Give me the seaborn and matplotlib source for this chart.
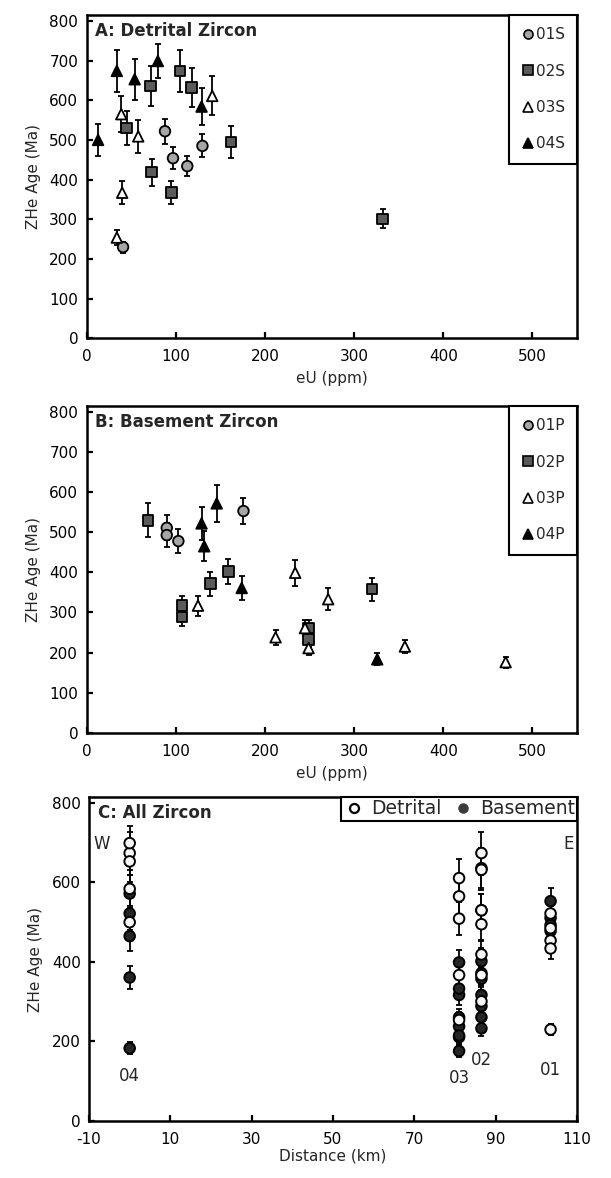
import matplotlib
matplotlib.use('Agg')
import matplotlib.pyplot as plt
import pandas as pd
import seaborn as sns
from matplotlib.lines import Line2D

sns.set_theme(style='white')
plt.rcParams['font.family'] = ['DejaVu Sans']
plt.rcParams['axes.unicode_minus'] = False

# ---------------- data ----------------
# Detrital zircon (panel A)
s01S_eu = [41, 88, 97, 113, 130]
s01S_age = [230, 522, 454, 434, 485]
s01S_err = [14, 32, 27, 26, 29]
s02S_eu = [45, 72, 105, 118, 162, 73, 95, 332]
s02S_age = [530, 636, 674, 632, 495, 419, 367, 301]
s02S_err = [42, 51, 54, 50, 40, 34, 29, 24]
s03S_eu = [39, 58, 141, 40, 34]
s03S_age = [565, 509, 611, 367, 254]
s03S_err = [45, 41, 49, 29, 20]
s04S_eu = [13, 34, 54, 80, 129]
s04S_age = [500, 674, 653, 699, 584]
s04S_err = [40, 54, 52, 42, 47]

# Basement zircon (panel B)
s01P_eu = [90, 90, 103, 176]
s01P_age = [511, 493, 478, 553]
s01P_err = [31, 30, 29, 33]
s02P_eu = [69, 107, 107, 139, 159, 320, 249, 249]
s02P_age = [530, 317, 289, 372, 402, 358, 261, 233]
s02P_err = [42, 25, 23, 30, 32, 29, 21, 19]
s03P_eu = [125, 234, 271, 212, 245, 249, 357, 470]
s03P_age = [317, 399, 333, 238, 261, 211, 215, 176]
s03P_err = [25, 32, 27, 19, 21, 17, 17, 14]
s04P_eu = [146, 129, 132, 174, 326]
s04P_age = [572, 522, 465, 361, 183]
s04P_err = [46, 42, 37, 29, 15]

# Sample distances along transect (panel C)
sample_ids = ['01', '02', '03', '04']
distance_km = [103.5, 86.5, 81, 0]

detrital_labels = ['01S', '02S', '03S', '04S']
basement_labels = ['01P', '02P', '03P', '04P']

# ---------------- tables ----------------
def build(labels, eus, ages, errs):
    rows = []
    for lab, e, a, r in zip(labels, eus, ages, errs):
        for xe, ya, er in zip(e, a, r):
            rows.append({'sample': lab, 'eU': xe, 'age': ya, 'err': er})
    return pd.DataFrame(rows)

dfA = build(detrital_labels, [s01S_eu, s02S_eu, s03S_eu, s04S_eu],
            [s01S_age, s02S_age, s03S_age, s04S_age],
            [s01S_err, s02S_err, s03S_err, s04S_err])
dfB = build(basement_labels, [s01P_eu, s02P_eu, s03P_eu, s04P_eu],
            [s01P_age, s02P_age, s03P_age, s04P_age],
            [s01P_err, s02P_err, s03P_err, s04P_err])

dist_map = dict(zip(sample_ids, distance_km))
dfC = pd.concat([
    dfB.assign(kind='Basement', dist=dfB['sample'].str[:2].map(dist_map)),
    dfA.assign(kind='Detrital', dist=dfA['sample'].str[:2].map(dist_map)),
], ignore_index=True)

# ---------------- style ----------------
fill = {'01': '#a6a6a6', '02': '#5a5a5a', '03': '#ffffff', '04': '#000000'}
mk = {'01': 'o', '02': 's', '03': '^', '04': '^'}
FS = 11
SPINE = 1.8

fig = plt.figure(figsize=(6.11, 11.78), dpi=100)
W, H = 611, 1178

def axes_px(left, top, right, bottom):
    return fig.add_axes([left / W, 1 - bottom / H, (right - left) / W, (bottom - top) / H])

def style_axes(ax):
    for s in ax.spines.values():
        s.set_visible(True)
        s.set_color('black')
        s.set_linewidth(SPINE)
    ax.tick_params(direction='in', length=4, width=1.6, labelsize=FS, colors='black',
                   left=True, bottom=True, top=False, right=False, pad=6)
    ax.tick_params(axis='x', pad=8)
    ax.grid(False)

def scatter_panel(ax, df, labels, title):
    for lab in labels:
        d = df[df['sample'] == lab]
        ax.errorbar(d['eU'], d['age'], yerr=d['err'], fmt='none', ecolor='black',
                    elinewidth=1.3, capsize=2.5, capthick=1.3, zorder=2)
    sns.scatterplot(data=df, x='eU', y='age', hue='sample', style='sample',
                    palette={l: fill[l[:2]] for l in labels},
                    markers={l: mk[l[:2]] for l in labels},
                    s=58, edgecolor='black', linewidth=1.3, legend=False, ax=ax, zorder=3)
    ax.set_xlim(0, 550)
    ax.set_ylim(0, 815)
    ax.set_xticks(range(0, 501, 100))
    ax.set_yticks(range(0, 801, 100))
    ax.set_xlabel('eU (ppm)', fontsize=FS, labelpad=5)
    ax.set_ylabel('ZHe Age (Ma)', fontsize=FS, labelpad=6)
    style_axes(ax)
    ax.text(0.018, 0.978, title, transform=ax.transAxes, fontsize=12, fontweight='bold',
            va='top', ha='left')
    handles = [Line2D([], [], linestyle='none', marker=mk[l[:2]], markersize=6.5,
                      markerfacecolor=fill[l[:2]], markeredgecolor='black',
                      markeredgewidth=1.2, label=l) for l in labels]
    leg = ax.legend(handles=handles, loc='upper right', bbox_to_anchor=(1, 1),
                    borderaxespad=0, frameon=True, fancybox=False, fontsize=FS,
                    labelspacing=1.4, handlelength=0.85, handletextpad=0.1,
                    borderpad=0.8)
    leg.get_frame().set_edgecolor('black')
    leg.get_frame().set_linewidth(1.5)
    leg.get_frame().set_alpha(1)

axA = axes_px(86.5, 15, 577, 338.3)
scatter_panel(axA, dfA, detrital_labels, 'A: Detrital Zircon')

axB = axes_px(86.5, 406, 577, 732.7)
scatter_panel(axB, dfB, basement_labels, 'B: Basement Zircon')

# ---------------- panel C ----------------
axC = axes_px(89, 797, 577, 1121)
axC.errorbar(dfC['dist'], dfC['age'], yerr=dfC['err'], fmt='none', ecolor='black',
             elinewidth=1.3, capsize=2.5, capthick=1.3, zorder=2)
sns.scatterplot(data=dfC, x='dist', y='age', hue='kind',
                palette={'Detrital': '#f7f7f7', 'Basement': '#262626'},
                s=58, edgecolor='black', linewidth=1.4, legend=False, ax=axC, zorder=3)
axC.set_xlim(-10, 110)
axC.set_ylim(0, 815)
axC.set_xticks(range(-10, 111, 20))
axC.set_yticks(range(0, 801, 200))
axC.set_xlabel('Distance (km)', fontsize=FS, labelpad=1)
axC.set_ylabel('ZHe Age (Ma)', fontsize=FS, labelpad=6)
style_axes(axC)
axC.text(0.018, 0.978, 'C: All Zircon', transform=axC.transAxes, fontsize=12,
         fontweight='bold', va='top', ha='left')
axC.text(-6.8, 698, 'W', fontsize=12, ha='center', va='center')
axC.text(108, 698, 'E', fontsize=12, ha='center', va='center')
label_y = [150, 175, 130, 135]
for sid, dx, ly in zip(sample_ids, distance_km, label_y):
    axC.text(dx, ly, sid, fontsize=12, ha='center', va='top')
hC = [Line2D([], [], linestyle='none', marker='o', markersize=6.5, markerfacecolor='white',
             markeredgecolor='black', markeredgewidth=1.6, label='Detrital'),
      Line2D([], [], linestyle='none', marker='o', markersize=6.5, markerfacecolor='#3a3a3a',
             markeredgecolor='#3a3a3a', label='Basement')]
legC = axC.legend(handles=hC, loc='upper right', bbox_to_anchor=(1, 1), borderaxespad=0,
                  ncol=2, frameon=True, fancybox=False, fontsize=13.5, handlelength=1.2,
                  handletextpad=0.29, columnspacing=0.57, borderpad=0.12)
legC.get_frame().set_edgecolor('black')
legC.get_frame().set_linewidth(1.5)
legC.get_frame().set_alpha(1)

fig.savefig('out.png', dpi=100)
